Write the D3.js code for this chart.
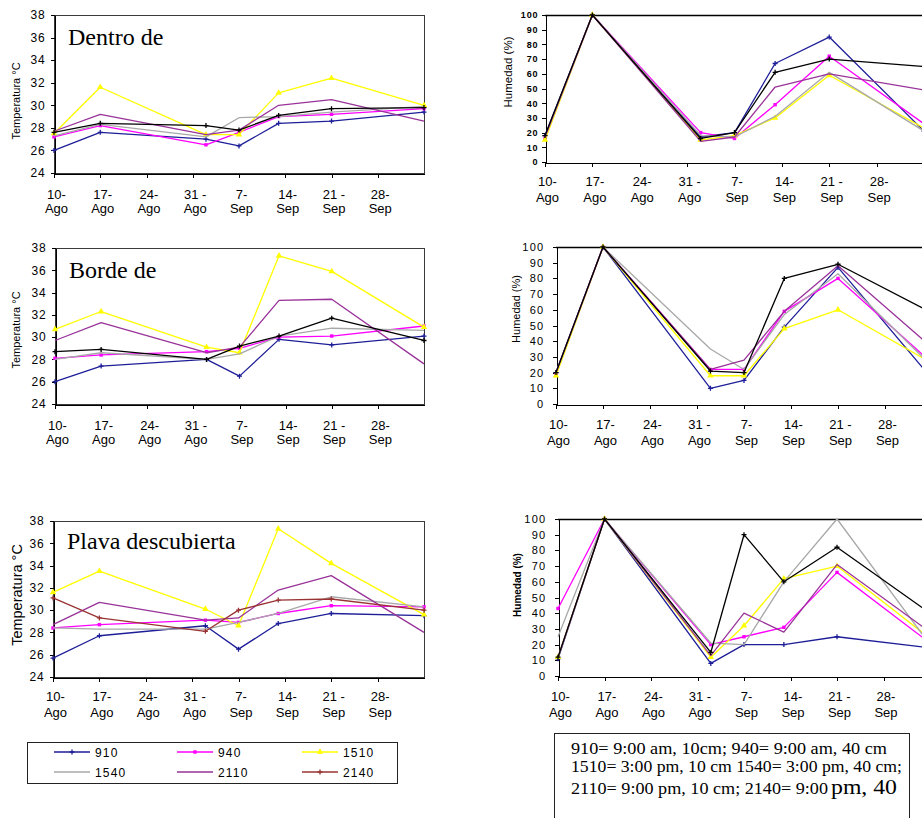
<!DOCTYPE html>
<html><head><meta charset="utf-8">
<script src="https://cdn.jsdelivr.net/npm/d3@7"></script>
<style>
html,body{margin:0;padding:0;background:#fff;}
svg{display:block;}
</style></head><body>
<svg id="fig" width="922" height="818"></svg>
<script>
// Series codes: hour + probe depth
const seriesKeys = ["910", "940", "1510", "1540", "2110", "2140"];
// Sampling dates (day-month)
const sampleDates = ["10-08", "17-08", "02-09", "07-09", "13-09", "21-09", "05-10"];
// Weekly axis ticks and their two-line labels
const weekTicks = ["10-08", "17-08", "24-08", "31-08", "07-09", "14-09", "21-09", "28-09"];
const weekLabels = [["10-", "Ago"], ["17-", "Ago"], ["24-", "Ago"], ["31 -", "Ago"], ["7-", "Sep"], ["14-", "Sep"], ["21 -", "Sep"], ["28-", "Sep"]];
const tempTicks = [24, 26, 28, 30, 32, 34, 36, 38];
const humTicks = [0, 10, 20, 30, 40, 50, 60, 70, 80, 90, 100];

// Temperature (°C), one row per series in seriesKeys order
const dentroTemp = [
  [26.0, 27.6, 27.0, 26.4, 28.4, 28.6, 29.4],
  [27.2, 28.2, 26.5, 27.6, 29.0, 29.2, 29.7],
  [27.5, 31.6, 27.4, 27.4, 31.1, 32.4, 30.0],
  [27.3, 28.3, 27.2, 28.9, 29.0, 29.4, 29.9],
  [27.7, 29.2, 27.4, 27.8, 30.0, 30.5, 28.6],
  [27.6, 28.4, 28.2, 27.8, 29.1, 29.7, 29.8]
];
const bordeTemp = [
  [26.0, 27.4, 28.0, 26.5, 29.8, 29.3, 30.1],
  [28.1, 28.4, 28.7, 29.0, 30.0, 30.1, 31.0],
  [30.7, 32.3, 29.1, 28.6, 37.3, 35.9, 30.9],
  [28.0, 28.6, 28.0, 28.5, 30.1, 30.8, 30.6],
  [29.7, 31.3, 28.6, 29.1, 33.3, 33.4, 27.6],
  [28.7, 28.9, 28.0, 29.2, 30.1, 31.7, 29.7]
];
const playaTemp = [
  [25.7, 27.7, 28.6, 26.5, 28.8, 29.7, 29.5],
  [28.4, 28.7, 29.1, 28.9, 29.7, 30.4, 30.3],
  [31.6, 33.5, 30.1, 28.6, 37.3, 34.2, 29.6],
  [28.4, 28.3, 28.3, 28.9, 29.7, 31.2, 30.3],
  [28.7, 30.7, 29.1, 29.3, 31.8, 33.1, 28.0],
  [31.1, 29.3, 28.1, 30.0, 30.9, 31.0, 30.0]
];
// Soil moisture (%), same layout
const dentroHum = [
  [18, 100, 17, 20, 67, 85, 21],
  [16, 100, 20, 16, 39, 72, 26],
  [15, 100, 15, 18, 30, 59, 23],
  [17, 100, 18, 17, 31, 61, 21],
  [17, 100, 14, 17, 51, 60, 49],
  [18, 100, 16, 20, 61, 70, 65]
];
const bordeHum = [
  [20, 100, 10, 15, 49, 87, 16],
  [19, 100, 22, 22, 59, 80, 26],
  [18, 100, 18, 18, 48, 60, 26],
  [20, 100, 35, 22, 57, 83, 24],
  [20, 100, 22, 28, 59, 88, 36],
  [20, 100, 21, 20, 80, 89, 58]
];
const playaHum = [
  [11, 100, 8, 20, 20, 25, 18],
  [43, 100, 20, 25, 31, 66, 21],
  [12, 100, 12, 32, 62, 70, 24],
  [25, 100, 21, 20, 60, 100, 20],
  [12, 100, 13, 40, 28, 71, 28],
  [12, 100, 15, 90, 60, 82, 40]
];

const parseDay = s => d3.timeParse("%d-%m-%Y")(s + "-2005");
const xDomain = [parseDay("10-08"), parseDay("05-10")];
const dates = sampleDates.map(parseDay);
const tickDates = weekTicks.map(parseDay);

const baseColors = ["#1e1e98", "#ff00ff", "#ffff00", "#a8a8a8", "#993399", "#000000"];
const brown = "#993333";
const markerType = ["plus", "square", "triangle", null, null, "plus"];

const SANS = "'Liberation Sans', Arial, sans-serif";
const SERIF = "'Liberation Serif', 'Times New Roman', serif";

const svg = d3.select("#fig");

function drawMarker(g, type, color, x, y) {
  if (type === "plus") {
    g.append("path").attr("d", `M${x - 2.5},${y}H${x + 2.5}M${x},${y - 2.5}V${y + 2.5}`)
      .attr("stroke", color).attr("stroke-width", 1.3);
  } else if (type === "square") {
    g.append("rect").attr("x", x - 1.7).attr("y", y - 1.7).attr("width", 3.4).attr("height", 3.4).attr("fill", color);
  } else if (type === "triangle") {
    g.append("path").attr("d", d3.symbol(d3.symbolTriangle, 18)()).attr("transform", `translate(${x},${y})`).attr("fill", color);
  }
}

function panel(cfg) {
  const g = svg.append("g");
  const x = d3.scaleTime().domain(xDomain).range([cfg.x0, cfg.x1]);
  const y = d3.scaleLinear().domain(cfg.yDomain).range([cfg.bottom, cfg.top]);

  // frame
  if (cfg.kind === "temp") {
    g.append("rect").attr("x", cfg.x0 + 0.5).attr("y", cfg.top + 0.5)
      .attr("width", cfg.x1 - cfg.x0).attr("height", cfg.bottom - cfg.top)
      .attr("fill", "none").attr("stroke", "#3a3a3a").attr("stroke-width", 1);
  } else {
    g.append("line").attr("x1", cfg.x0).attr("x2", cfg.x1 + 2)
      .attr("y1", cfg.top + 0.5).attr("y2", cfg.top + 0.5)
      .attr("stroke", "#000").attr("stroke-width", 1.6);
  }

  // y axis
  const ya = g.append("g").attr("transform", `translate(${cfg.x0 + 0.5},0)`)
    .call(d3.axisLeft(y).tickValues(cfg.yTicks).tickSize(4).tickSizeOuter(0).tickPadding(cfg.yPad));
  ya.selectAll("text").attr("font-family", SANS).attr("font-size", cfg.yFont)
    .attr("letter-spacing", cfg.ySpacing).attr("fill", "#000").attr("font-weight", cfg.yWeight || "normal");
  ya.selectAll("line,path").attr("stroke", "#000").attr("shape-rendering", "crispEdges");

  // x axis
  const xa = g.append("g").attr("transform", `translate(0,${cfg.bottom + 0.5})`)
    .call(d3.axisBottom(x).tickValues(tickDates).tickSize(4).tickSizeOuter(0).tickFormat(() => ""));
  xa.selectAll("line,path").attr("stroke", "#000").attr("shape-rendering", "crispEdges");
  xa.selectAll(".tick").each(function (d, i) {
    const t = d3.select(this).select("text")
      .attr("font-family", SANS).attr("font-size", 13).attr("fill", "#000")
      .attr("text-anchor", "middle").attr("x", 2).attr("y", 0).attr("dy", null);
    t.append("tspan").attr("x", 2).attr("y", cfg.xRow1).text(weekLabels[i][0]);
    t.append("tspan").attr("x", 2).attr("y", cfg.xRow2).text(weekLabels[i][1]);
  });

  // y axis title
  g.append("text").attr("transform", `translate(${cfg.yTitleX},${cfg.yTitleY}) rotate(-90)`)
    .attr("text-anchor", "middle").attr("dominant-baseline", "middle")
    .attr("font-family", SANS).attr("font-size", cfg.yTitleFont)
    .attr("font-weight", cfg.yTitleWeight || "normal").text(cfg.yTitle);

  // panel title
  if (cfg.title) {
    g.append("text").attr("x", cfg.x0 + 14).attr("y", cfg.top + cfg.titleDy)
      .attr("font-family", SERIF).attr("font-size", 24).text(cfg.title);
  }

  // series
  const line = d3.line().x((d, i) => x(dates[i])).y(d => y(d));
  const colors = cfg.colors;
  cfg.data.forEach((vals, k) => {
    g.append("path").datum(vals).attr("d", line)
      .attr("fill", "none").attr("stroke", colors[k]).attr("stroke-width", 1.3)
      .attr("stroke-linejoin", "round");
    if (markerType[k]) {
      const mg = g.append("g");
      vals.forEach((v, i) => drawMarker(mg, markerType[k], colors[k], x(dates[i]), y(v)));
    }
  });
}

const colorsBlack = baseColors;
const colorsBrown = baseColors.slice(0, 5).concat([brown]);

// Temperature panels (left)
panel({ kind: "temp", x0: 54, x1: 424, top: 15, bottom: 173, yDomain: [24, 38], yTicks: tempTicks,
  yPad: 5, yFont: 12, ySpacing: 0.8, xRow1: 25, xRow2: 39,
  yTitle: "Temperatura °C", yTitleX: 17, yTitleY: 101, yTitleFont: 11,
  title: "Dentro de", titleDy: 30, data: dentroTemp, colors: colorsBlack });
panel({ kind: "temp", x0: 55, x1: 424, top: 248, bottom: 404, yDomain: [24, 38], yTicks: tempTicks,
  yPad: 5, yFont: 12, ySpacing: 0.8, xRow1: 25, xRow2: 39,
  yTitle: "Temperatura °C", yTitleX: 17, yTitleY: 330, yTitleFont: 11,
  title: "Borde de", titleDy: 30, data: bordeTemp, colors: colorsBlack });
panel({ kind: "temp", x0: 53, x1: 424, top: 521, bottom: 677, yDomain: [24, 38], yTicks: tempTicks,
  yPad: 5, yFont: 12, ySpacing: 0.8, xRow1: 23, xRow2: 39,
  yTitle: "Temperatura °C", yTitleX: 18, yTitleY: 595, yTitleFont: 14.5,
  title: "Plava descubierta", titleDy: 28, data: playaTemp, colors: colorsBrown });

// Moisture panels (right)
panel({ kind: "hum", x0: 545, x1: 924, top: 15, bottom: 162, yDomain: [0, 100], yTicks: humTicks,
  yPad: 3, yFont: 9, ySpacing: 0.9, yWeight: "bold", xRow1: 23, xRow2: 39,
  yTitle: "Humedad (%)", yTitleX: 509, yTitleY: 72, yTitleFont: 11.5,
  data: dentroHum, colors: colorsBlack });
panel({ kind: "hum", x0: 556, x1: 932, top: 247, bottom: 404, yDomain: [0, 100], yTicks: humTicks,
  yPad: 8, yFont: 11, ySpacing: 1.3, xRow1: 24, xRow2: 40,
  yTitle: "Humedad (%)", yTitleX: 517, yTitleY: 309, yTitleFont: 11,
  data: bordeHum, colors: colorsBlack });
panel({ kind: "hum", x0: 558, x1: 930, top: 519, bottom: 676, yDomain: [0, 100], yTicks: humTicks,
  yPad: 8, yFont: 11, ySpacing: 1.3, xRow1: 24, xRow2: 40,
  yTitle: "Humedad (%)", yTitleX: 518, yTitleY: 585, yTitleFont: 10, yTitleWeight: "bold",
  data: playaHum, colors: colorsBlack });

// Legend
const leg = svg.append("g");
leg.append("rect").attr("x", 27.5).attr("y", 742.5).attr("width", 370).attr("height", 41)
  .attr("fill", "#fff").attr("stroke", "#222").attr("stroke-width", 1);
const legCols = [54, 177, 302];
const legRows = [752, 772];
seriesKeys.forEach((key, k) => {
  const cx = legCols[k % 3], cy = legRows[Math.floor(k / 3)];
  const c = colorsBrown[k];
  leg.append("line").attr("x1", cx).attr("x2", cx + 36).attr("y1", cy).attr("y2", cy)
    .attr("stroke", c).attr("stroke-width", 1.3);
  if (markerType[k]) drawMarker(leg, markerType[k], c, cx + 18, cy);
  leg.append("text").attr("x", cx + 41).attr("y", cy + 4.5)
    .attr("font-family", SANS).attr("font-size", 12).attr("letter-spacing", 1.2).text(key);
});

// Code key box
const note = svg.append("g");
note.append("rect").attr("x", 554.5).attr("y", 733.5).attr("width", 355).attr("height", 100)
  .attr("fill", "#fff").attr("stroke", "#222").attr("stroke-width", 1);
note.append("text").attr("x", 571).attr("y", 754).attr("font-family", SERIF).attr("font-size", 16)
  .attr("textLength", 316).attr("lengthAdjust", "spacingAndGlyphs")
  .text("910= 9:00 am, 10cm; 940= 9:00 am, 40 cm");
note.append("text").attr("x", 571).attr("y", 772).attr("font-family", SERIF).attr("font-size", 16)
  .attr("textLength", 331).attr("lengthAdjust", "spacingAndGlyphs")
  .text("1510= 3:00 pm, 10 cm 1540= 3:00 pm, 40 cm;");
note.append("text").attr("x", 571).attr("y", 794).attr("font-family", SERIF).attr("font-size", 16)
  .attr("textLength", 257).attr("lengthAdjust", "spacingAndGlyphs")
  .text("2110= 9:00 pm, 10 cm; 2140= 9:00");
note.append("text").attr("x", 831).attr("y", 794).attr("font-family", SERIF).attr("font-size", 21)
  .attr("textLength", 66).attr("lengthAdjust", "spacingAndGlyphs")
  .text("pm, 40");
</script>
</body></html>
